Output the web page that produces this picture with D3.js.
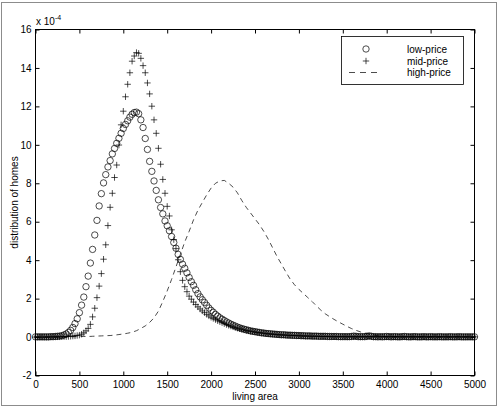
<!DOCTYPE html>
<html>
<head>
<meta charset="utf-8">
<script src="https://cdn.jsdelivr.net/npm/d3@7"></script>
<style>
  body { margin: 0; background: #fff; }
  svg text { font-family: "Liberation Sans", Arial, sans-serif; fill: #000; }
</style>
</head>
<body>
<div id="chart"></div>
<script>
// values are in units of 1e-4, binned every 25 (markers) / 50 (line) of living area
const lowStep = 25;
const lowPrice = [
  0.01,0.01,0.01,0.01,0.01,0.01,0.01,0.02,0.02,0.03,
  0.04,0.05,0.07,0.11,0.16,0.24,0.35,0.50,0.70,0.95,
  1.27,1.66,2.08,2.62,3.17,3.85,4.56,5.31,6.07,6.82,
  7.46,8.02,8.45,8.85,9.18,9.53,9.81,10.08,10.34,10.60,
  10.85,11.06,11.25,11.44,11.59,11.68,11.70,11.62,11.30,10.90,
  10.33,9.76,9.14,8.62,8.12,7.63,7.14,6.74,6.41,6.04,
  5.79,5.53,5.23,4.92,4.62,4.30,4.04,3.79,3.58,3.34,
  3.10,2.88,2.69,2.46,2.26,2.09,1.94,1.80,1.65,1.51,
  1.39,1.29,1.18,1.09,1.00,0.93,0.86,0.79,0.73,0.67,
  0.62,0.57,0.52,0.48,0.44,0.41,0.38,0.35,0.32,0.30,
  0.28,0.26,0.24,0.22,0.21,0.19,0.18,0.17,0.16,0.15,
  0.14,0.13,0.12,0.12,0.11,0.10,0.10,0.09,0.09,0.08,
  0.08,0.07,0.07,0.06,0.06,0.06,0.05,0.05,0.05,0.04,
  0.04,0.04,0.04,0.03,0.03,0.03,0.03,0.03,0.02,0.02,
  0.02,0.02,0.02,0.02,0.03,0.05,0.04,0.02,0.02,0.02,
  0.02,0.04,0.06,0.04,0.02,0.02,0.01,0.02,0.01,0.02,
  0.03,0.02,0.01,0.02,0.02,0.01,0.01,0.02,0.03,0.02,
  0.01,0.01,0.02,0.02,0.01,0.01,0.01,0.02,0.01,0.01,
  0.02,0.01,0.01,0.01,0.02,0.01,0.01,0.01,0.01,0.02,
  0.01,0.01,0.01,0.02,0.01,0.01,0.01,0.01,0.01,0.01,
  0.01
];

const midStep = 25;
const midPrice = [
  0.00,0.00,0.00,0.00,0.00,0.00,0.00,0.01,0.01,0.01,
  0.01,0.01,0.02,0.02,0.02,0.03,0.04,0.05,0.06,0.08,
  0.10,0.15,0.22,0.32,0.45,0.66,1.05,1.50,2.05,2.65,
  3.30,4.05,4.80,5.80,6.75,7.48,8.30,8.95,9.99,11.04,
  11.75,12.50,13.15,13.75,14.35,14.62,14.80,14.76,14.50,14.12,
  13.75,13.22,12.65,12.01,11.30,10.60,9.82,8.99,8.20,7.48,
  6.80,6.30,5.58,5.07,4.60,4.02,3.40,2.95,2.62,2.36,
  2.13,1.97,1.82,1.69,1.57,1.46,1.36,1.27,1.18,1.10,
  1.03,0.97,0.91,0.85,0.80,0.75,0.70,0.65,0.61,0.57,
  0.53,0.49,0.46,0.43,0.40,0.37,0.34,0.32,0.30,0.28,
  0.26,0.24,0.23,0.21,0.20,0.18,0.17,0.16,0.15,0.14,
  0.13,0.12,0.11,0.11,0.10,0.09,0.09,0.08,0.08,0.07,
  0.07,0.06,0.06,0.05,0.05,0.05,0.04,0.04,0.04,0.03,
  0.03,0.03,0.03,0.03,0.02,0.02,0.02,0.02,0.02,0.02,
  0.02,0.02,0.01,0.02,0.02,0.01,0.02,0.02,0.01,0.02,
  0.02,0.01,0.03,0.02,0.01,0.02,0.02,0.01,0.02,0.02,
  0.01,0.02,0.02,0.01,0.02,0.02,0.01,0.01,0.02,0.01,
  0.02,0.01,0.01,0.02,0.01,0.01,0.02,0.01,0.01,0.01,
  0.01,0.02,0.01,0.01,0.01,0.02,0.01,0.01,0.01,0.01,
  0.01,0.01,0.02,0.01,0.01,0.01,0.01,0.01,0.01,0.01,
  0.01
];

const highStep = 50;
const highPrice = [
  0.00,0.00,0.00,0.00,0.00,0.00,0.01,0.01,0.01,0.02,
  0.02,0.03,0.03,0.04,0.05,0.06,0.07,0.08,0.10,0.13,
  0.16,0.20,0.25,0.33,0.45,0.58,0.76,1.00,1.35,1.85,
  2.40,3.00,3.65,4.30,4.95,5.50,6.10,6.60,7.00,7.40,
  7.75,8.00,8.12,8.15,8.00,7.80,7.50,7.10,6.75,6.45,
  6.15,5.85,5.50,5.10,4.65,4.20,3.80,3.40,3.02,2.72,
  2.48,2.27,2.06,1.85,1.62,1.40,1.21,1.06,0.92,0.79,
  0.67,0.55,0.44,0.35,0.27,0.21,0.16,0.11,0.07,0.04,
  0.02,0.02,0.01,0.01,0.01,0.01,0.01,0.01,0.01,0.01,
  0.01,0.01,0.01,0.01,0.01,0.01,0.01,0.01,0.01,0.01,
  0.01
];

const xTicks = [0, 500, 1000, 1500, 2000, 2500, 3000, 3500, 4000, 4500, 5000];
const yTicks = [-2, 0, 2, 4, 6, 8, 10, 12, 14, 16];
const legendLabels = ["low-price", "mid-price", "high-price"];

const W = 502, H = 408;
const plot = { left: 35.5, right: 474.5, top: 29.5, bottom: 375.5 };

const x = d3.scaleLinear().domain([0, 5000]).range([plot.left, plot.right]);
const y = d3.scaleLinear().domain([-2, 16]).range([plot.bottom, plot.top]);

const svg = d3.select("#chart").append("svg")
  .attr("width", W)
  .attr("height", H);

// figure frame
svg.append("rect")
  .attr("x", 1.5).attr("y", 2.5)
  .attr("width", 495).attr("height", 403)
  .attr("fill", "#fff")
  .attr("stroke", "#8c8c8c");

const plain = d => String(d);

// axes, ticks pointing inwards on all four sides
svg.append("g")
  .attr("transform", `translate(0,${plot.bottom})`)
  .call(d3.axisBottom(x).tickValues(xTicks).tickFormat(plain).tickSize(-4).tickSizeOuter(0).tickPadding(5))
  .call(g => g.selectAll("text").style("font-size", "10px"));

svg.append("g")
  .attr("transform", `translate(${plot.left},0)`)
  .call(d3.axisLeft(y).tickValues(yTicks).tickFormat(plain).tickSize(-4).tickSizeOuter(0).tickPadding(4))
  .call(g => g.selectAll("text").style("font-size", "10px"));

svg.append("g")
  .attr("transform", `translate(0,${plot.top})`)
  .call(d3.axisTop(x).tickValues(xTicks).tickSize(-4).tickSizeOuter(0).tickFormat(""));

svg.append("g")
  .attr("transform", `translate(${plot.right},0)`)
  .call(d3.axisRight(y).tickValues(yTicks).tickSize(-4).tickSizeOuter(0).tickFormat(""));

svg.selectAll(".domain").remove();
svg.selectAll(".tick line").attr("stroke", "#000");

svg.append("rect")
  .attr("x", plot.left).attr("y", plot.top)
  .attr("width", plot.right - plot.left)
  .attr("height", plot.bottom - plot.top)
  .attr("fill", "none")
  .attr("stroke", "#000");

// exponent note
const expo = svg.append("text")
  .attr("x", 36).attr("y", 24.5)
  .style("font-size", "10px");
expo.append("tspan").text("x 10");
expo.append("tspan").attr("dy", -5).style("font-size", "7px").text("-4");

// axis titles
svg.append("text")
  .attr("x", (plot.left + plot.right) / 2).attr("y", 400)
  .attr("text-anchor", "middle")
  .style("font-size", "10px")
  .text("living area");

svg.append("text")
  .attr("transform", `translate(17.5,${(plot.top + plot.bottom) / 2}) rotate(-90)`)
  .attr("text-anchor", "middle")
  .style("font-size", "10px")
  .text("distribution of homes");

// series
const marks = svg.append("g");

marks.selectAll("circle.low")
  .data(lowPrice)
  .join("circle")
    .attr("class", "low")
    .attr("cx", (d, i) => x(i * lowStep))
    .attr("cy", d => y(d))
    .attr("r", 3.2)
    .attr("fill", "none")
    .attr("stroke", "#000")
    .attr("stroke-width", 0.7);

const plusPath = "M-3.2,0H3.2M0,-3.2V3.2";

marks.selectAll("path.mid")
  .data(midPrice)
  .join("path")
    .attr("class", "mid")
    .attr("transform", (d, i) => `translate(${x(i * midStep)},${y(d)})`)
    .attr("d", plusPath)
    .attr("stroke", "#000")
    .attr("stroke-width", 0.7);

const line = d3.line()
  .x((d, i) => x(i * highStep))
  .y(d => y(d));

marks.append("path")
  .datum(highPrice)
  .attr("fill", "none")
  .attr("stroke", "#000")
  .attr("stroke-width", 0.7)
  .attr("stroke-dasharray", "5,4")
  .attr("d", line);

// legend
const legend = svg.append("g");
legend.append("rect")
  .attr("x", 341.5).attr("y", 36.5)
  .attr("width", 122).attr("height", 48)
  .attr("fill", "#fff")
  .attr("stroke", "#000")
  .attr("stroke-width", 0.8);

const rowY = [49, 61, 72.5];

legend.append("circle")
  .attr("cx", 366).attr("cy", rowY[0]).attr("r", 3.2)
  .attr("fill", "none").attr("stroke", "#000").attr("stroke-width", 0.7);

legend.append("path")
  .attr("transform", `translate(366,${rowY[1]})`)
  .attr("d", plusPath)
  .attr("stroke", "#000").attr("stroke-width", 0.7);

legend.append("line")
  .attr("x1", 349).attr("x2", 382)
  .attr("y1", rowY[2]).attr("y2", rowY[2])
  .attr("stroke", "#000").attr("stroke-width", 0.7)
  .attr("stroke-dasharray", "6,5");

legend.selectAll("text")
  .data(legendLabels)
  .join("text")
    .attr("x", 407)
    .attr("y", (d, i) => rowY[i] + 3.5)
    .style("font-size", "10px")
    .text(d => d);
</script>
</body>
</html>
